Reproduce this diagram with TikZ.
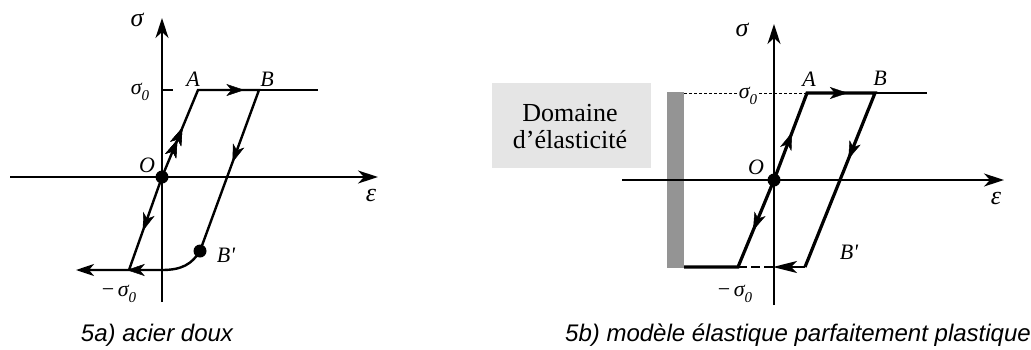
\documentclass[tikz,border=0pt]{standalone}
\usepackage{fontspec}
\setmainfont{Liberation Serif}
\setsansfont{Liberation Sans}
\newfontfamily\serifx{Liberation Serif}
\usetikzlibrary{arrows.meta,decorations.markings}
\newcommand{\sigz}{\textit{σ}\raisebox{-0.3em}{\fontsize{15}{15}\selectfont 0}}
\tikzset{
  axisline/.style={line width=1.5pt},
  axarrow/.style={-{Stealth[length=20pt,width=13pt,inset=6pt]}},
  patha/.style={line width=2.4pt},
  pathb/.style={line width=3.2pt},
  midarrow/.style={postaction={decorate},decoration={markings,mark=at position #1 with {\arrow{Stealth[length=18pt,width=12pt,inset=5pt]}}}},
  lab/.style={font=\serifx\fontsize{22}{22}\selectfont\itshape, inner sep=0pt},
  glab/.style={font=\serifx\fontsize{26}{26}\selectfont\itshape, inner sep=0pt},
  caption/.style={font=\fontsize{24}{28}\selectfont\sffamily\itshape, inner sep=0pt},
  dot/.style={circle, fill=black, inner sep=0pt, minimum size=13pt},
}
\begin{document}
\begin{tikzpicture}[x=1pt,y=-1pt]
\useasboundingbox (0,0) rectangle (1031,349);
% ================= 5a =================
\coordinate (ybot1) at (162,302);
\coordinate (ytop1) at (162,18);
\coordinate (xl1) at (10,177);
\coordinate (xr1) at (378,177);
\coordinate (O1) at (162,177);
\coordinate (A1) at (198,90);
\coordinate (B1) at (259,90);
\coordinate (E1) at (318,90);
\coordinate (T1) at (173,90);
\coordinate (S1) at (162,90);
\coordinate (Bp1) at (200,251);
\coordinate (K1) at (162,270);
\coordinate (C1) at (129,270);
\coordinate (L1) at (76,270);
\draw[axisline,axarrow] (ybot1) -- (ytop1);
\draw[axisline,axarrow] (xl1) -- (xr1);
\draw[axisline] (S1) -- (T1);
\draw[axisline] (B1) -- (E1);
\draw[patha,line join=miter] (O1) -- (A1) -- (B1) -- (Bp1);
\draw[patha] (O1) -- (C1);
\draw[patha,-{Stealth[length=18pt,width=12pt,inset=5pt]}] (Bp1) .. controls (192,264) and (182,270) .. (K1) -- (L1);
\path[midarrow=0.43,midarrow=0.57] (O1) -- (A1);
\path[midarrow=0.76] (A1) -- (B1);
\path[midarrow=0.45] (B1) -- (Bp1);
\path[midarrow=0.58] (O1) -- (C1);
\path[midarrow=0.41] (K1) -- (L1);
\node[dot] (dO1) at (O1) {};
\node[dot] (dBp1) at (Bp1) {};
\node[glab] (sig1) at (137,20) {σ};
\node[lab] (s01) at (140,92) {\sigz};
\node[lab] (lA1) at (193,79) {A};
\node[lab] (lB1) at (267,79) {B};
\node[lab] (lO1) at (147,165) {O};
\node[lab] (lBp1) at (226,255) {B'};
\node[lab] (ms01) at (119,294) {\upshape −\,\itshape\sigz};
\node[glab] (eps1) at (371,195) {ε};
\node[caption] (cap1) at (157,335) {5a) acier doux};
% ================= 5b =================
\coordinate (ybot2) at (774,305);
\coordinate (ytop2) at (774,24);
\coordinate (xl2) at (622,180);
\coordinate (xr2) at (1004,180);
\coordinate (O2) at (774,180);
\coordinate (A2) at (807,93);
\coordinate (B2) at (875,93);
\coordinate (E2) at (927,93);
\coordinate (Bp2) at (805,267);
\coordinate (C2) at (738,267);
\coordinate (M2) at (773,267);
\coordinate (Z2) at (684,267);
\coordinate (Z2t) at (684,93);
\node[draw=none,fill=black!10,minimum width=159pt,minimum height=85pt,inner sep=0pt] (box) at (571.5,125.5) {};
\node[font=\serifx\fontsize{26}{27}\selectfont,align=center,inner sep=0pt] (dom) at (570,127) {Domaine\\d’élasticité};
\fill[black!42] (667,92) rectangle (684,268);
\draw[line width=1pt,dash pattern=on 3pt off 2pt] (Z2t) -- (A2);
\node[lab,fill=white,inner xsep=1pt] (s02) at (748,96) {\sigz};
\draw[axisline,axarrow] (ybot2) -- (ytop2);
\draw[axisline,axarrow] (xl2) -- (xr2);
\draw[axisline] (B2) -- (E2);
\draw[pathb,line join=miter] (Z2) -- (C2) -- (O2) -- (A2) -- (B2) -- (Bp2);
\draw[line width=1.5pt,dash pattern=on 9pt off 4pt] (C2) -- (M2);
\draw[line width=1.5pt,-{Stealth[length=24pt,width=12pt,inset=6pt]}] (Bp2) -- (M2);
\path[midarrow=0.55] (O2) -- (A2);
\path[midarrow=0.6] (A2) -- (B2);
\path[midarrow=0.38] (B2) -- (Bp2);
\path[midarrow=0.58] (O2) -- (C2);
\node[dot] (dO2) at (O2) {};
\node[glab] (sig2) at (742,30) {σ};
\node[lab] (lA2) at (809,79) {A};
\node[lab] (lB2) at (880,78) {B};
\node[lab] (lO2) at (756,167) {O};
\node[lab] (lBp2) at (849,252) {B'};
\node[lab] (ms02) at (735,294) {\upshape −\,\itshape\sigz};
\node[glab] (eps2) at (996,198) {ε};
\node[caption] (cap2) at (798,335) {5b) modèle élastique parfaitement plastique};
\end{tikzpicture}
\end{document}
